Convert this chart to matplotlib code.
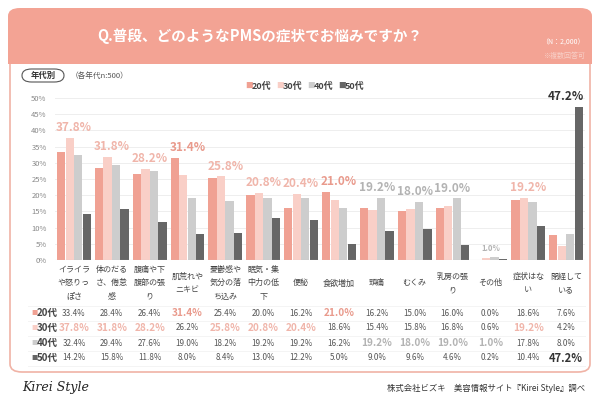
import matplotlib
matplotlib.use('Agg')
import matplotlib.pyplot as plt
from matplotlib.patches import FancyBboxPatch, Rectangle
from matplotlib.transforms import blended_transform_factory
import numpy as np

plt.rcParams['font.family'] = ['Noto Sans CJK JP', 'DejaVu Sans']

# data
categories = ['イライラ\nや怒りっ\nぽさ', '体のだる\nさ、倦怠\n感', '腹痛や下\n腹部の張\nり', '肌荒れや\nニキビ',
              '憂鬱感や\n気分の落\nち込み', '眠気・集\n中力の低\n下', '便秘', '食欲増加', '頭痛', 'むくみ',
              '乳房の張\nり', 'その他', '症状はな\nい', '閉経して\nいる']
groups = ['20代', '30代', '40代', '50代']
age20 = [33.4, 28.4, 26.4, 31.4, 25.4, 20.0, 16.2, 21.0, 16.2, 15.0, 16.0, 0.0, 18.6, 7.6]
age30 = [37.8, 31.8, 28.2, 26.2, 25.8, 20.8, 20.4, 18.6, 15.4, 15.8, 16.8, 0.6, 19.2, 4.2]
age40 = [32.4, 29.4, 27.6, 19.0, 18.2, 19.2, 19.2, 16.2, 19.2, 18.0, 19.0, 1.0, 17.8, 8.0]
age50 = [14.2, 15.8, 11.8, 8.0, 8.4, 13.0, 12.2, 5.0, 9.0, 9.6, 4.6, 0.2, 10.4, 47.2]
yticks = [0, 5, 10, 15, 20, 25, 30, 35, 40, 45, 50]

series = [age20, age30, age40, age50]
bar_colors = ['#f0a193', '#f9cfc7', '#cdcdcd', '#666666']
hi_colors = ['#e99a8c', '#f0b5aa', '#b3b3b3', '#333333']
salmon = '#f3a394'

W, H = 600, 400
fig = plt.figure(figsize=(6, 4), dpi=100)
fig.patch.set_facecolor('white')

def fx(x):
    return x / W

def fy(y):
    return 1 - y / H

# panel border
panel = FancyBboxPatch((fx(10), fy(372)), fx(580), (372 - 20) / H,
                       boxstyle='round,pad=0,rounding_size=0.02', transform=fig.transFigure,
                       facecolor='white', edgecolor='#f0b3a6', linewidth=1.2, zorder=-3)
fig.patches.append(panel)
# header
head = FancyBboxPatch((fx(8), fy(64)), fx(584), 56 / H,
                      boxstyle='round,pad=0,rounding_size=0.02', transform=fig.transFigure,
                      facecolor=salmon, edgecolor='none', zorder=-2)
fig.patches.append(head)
fig.patches.append(Rectangle((fx(8), fy(64)), fx(584), 20 / H, transform=fig.transFigure,
                             facecolor=salmon, edgecolor='none', zorder=-2))

fig.text(fx(260), fy(36), 'Q.普段、どのようなPMSの症状でお悩みですか？', color='white',
         fontsize=10.5, fontweight='bold', ha='center', va='center')
fig.text(fx(585), fy(43), '（N：2,000）', color='white', fontsize=5, ha='right', va='center')
fig.text(fx(585), fy(56), '※複数回答可', color='#f8d0c8', fontsize=5, ha='right', va='center')

# pill label
pill = FancyBboxPatch((fx(22), fy(82)), fx(42), 13 / H,
                      boxstyle='round,pad=0,rounding_size=0.016', transform=fig.transFigure,
                      facecolor='white', edgecolor='#555555', linewidth=0.8, zorder=2)
fig.patches.append(pill)
fig.text(fx(43), fy(75.5), '年代別', fontsize=6, fontweight='bold', color='#333333',
         ha='center', va='center')
fig.text(fx(71), fy(76), '（各年代n:500）', fontsize=5.5, color='#555555', ha='left', va='center')

# legend
lx = [245, 276, 307, 338]
for x0, g, c in zip(lx, groups, bar_colors):
    fig.text(fx(x0), fy(86), '■', color=c, fontsize=5.5, ha='left', va='center')
    fig.text(fx(x0 + 7), fy(86), g, color='#444444', fontsize=6.5, fontweight='bold',
             ha='left', va='center')

# chart
ax = fig.add_axes([fx(55), fy(260), fx(530), (260 - 98) / H])
ax.patch.set_alpha(0)
x = np.arange(len(categories))
bw = 0.225
for i, (vals, c) in enumerate(zip(series, bar_colors)):
    ax.bar(x + (i - 1.5) * bw, vals, width=bw * 0.97, color=c, zorder=3)

ax.set_xlim(-0.5, len(categories) - 0.5)
ax.set_ylim(0, 50)
ax.set_yticks(yticks)
ax.set_yticklabels([f'{t}%' for t in yticks], fontsize=5.5, color='#888888')
ax.tick_params(axis='y', length=0, pad=6)
ax.set_xticks(x)
ax.set_xticklabels(categories, fontsize=5.8, color='#444444', linespacing=1.65, va='center')
ax.tick_params(axis='x', length=0, pad=16.5)
ax.grid(axis='y', color='#eeeeee', linewidth=0.7, zorder=0)
for s in ax.spines.values():
    s.set_visible(False)
ax.axhline(0, color='#cccccc', linewidth=0.8, zorder=4)

# max labels
data = np.array(series)
for j in range(len(categories)):
    k = int(np.argmax(data[:, j]))
    v = data[k, j]
    fs = 5.5 if v < 5 else 8.5
    ax.text(j, v + 1.2, f'{v:.1f}%', color=hi_colors[k], fontsize=fs, fontweight='bold',
            ha='center', va='bottom', zorder=5, clip_on=False)

# table
trans = blended_transform_factory(ax.transData, fig.transFigure)
row_y = [313, 328, 343, 358]
for i, (g, vals) in enumerate(zip(groups, series)):
    fig.text(fx(31), fy(row_y[i]), '■', color=bar_colors[i], fontsize=4.5, ha='left', va='center')
    fig.text(fx(37), fy(row_y[i]), g, color='#444444', fontsize=7, fontweight='bold',
             ha='left', va='center')
    for j, v in enumerate(vals):
        top = int(np.argmax(data[:, j])) == i
        if top:
            col = hi_colors[i]
            fs = 8 if i == 3 else 7.2
            fw = 'bold'
        else:
            col = '#555555'
            fs = 5.8
            fw = 'normal'
        ax.text(j, fy(row_y[i]), f'{v:.1f}%', transform=trans, color=col, fontsize=fs,
                fontweight=fw, ha='center', va='center', clip_on=False)
for y0 in [305.5, 320.5, 335.5, 350.5, 366]:
    fig.add_artist(plt.Line2D([fx(28), fx(585)], [fy(y0), fy(y0)], color='#f2f2f2',
                              linewidth=0.6, zorder=-1))

# footer
fig.text(fx(22), fy(388), 'Kirei Style', family='DejaVu Serif', style='italic', fontsize=9,
         color='#222222', ha='left', va='center')
fig.text(fx(585), fy(388), '株式会社ビズキ　美容情報サイト『Kirei Style』調べ', fontsize=6,
         color='#333333', ha='right', va='center')

fig.savefig('out.png', dpi=100, facecolor='white')
